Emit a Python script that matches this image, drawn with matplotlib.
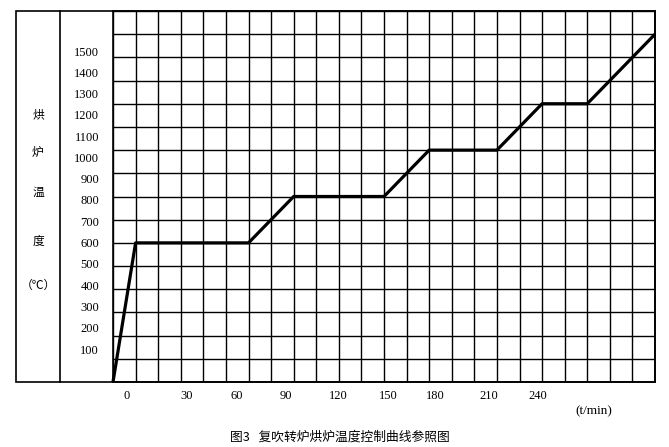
import matplotlib.pyplot as plt
import numpy as np
from matplotlib.patches import Rectangle
from matplotlib.lines import Line2D

# curve turning points (x in grid columns, y in degrees C)
t_cols = [0, 1, 6, 8, 12, 14, 17, 19, 21, 24]
temps = [0, 600, 600, 800, 800, 1000, 1000, 1200, 1200, 1500]

# tick labels as placed on the original figure
x_labels = ["0", "30", "60", "90", "120", "150", "180", "210", "240"]
x_label_pos = [0.62, 3.27, 5.5, 7.65, 9.98, 12.2, 14.25, 16.65, 18.8]
y_labels = [str(v) for v in range(100, 1600, 100)]
y_label_pos = [142, 234, 326, 417, 509, 601, 693, 785, 877, 968,
               1060, 1152, 1244, 1336, 1427]

side_chars = ["烘", "炉", "温", "度", "（℃）"]
side_char_y = [115, 152, 192, 241, 285]

W, H = 669, 447
fig = plt.figure(figsize=(W / 100, H / 100), dpi=100)

def fx(px):
    return px / W

def fy(py):
    return 1 - py / H

ax = fig.add_axes([fx(113), fy(382), fx(655) - fx(113), fy(11) - fy(382)])
ax.set_xlim(0, 24)
ax.set_ylim(0, 1600)

ax.set_xticks(np.arange(0, 25), minor=True)
ax.set_yticks(np.arange(0, 1700, 100), minor=True)
ax.grid(which="minor", color="black", linewidth=1.0)
ax.set_axisbelow(True)
ax.tick_params(which="both", length=0)

ax.set_xticks(x_label_pos, x_labels)
ax.set_yticks(y_label_pos, y_labels)
ax.tick_params(axis="x", pad=6)
ax.tick_params(axis="y", pad=10)
for lbl in ax.get_xticklabels() + ax.get_yticklabels():
    lbl.set_fontfamily("Liberation Serif")
    lbl.set_fontsize(9)

for s in ax.spines.values():
    s.set_linewidth(1.2)

ax.plot(t_cols, temps, color="black", linewidth=2.3, solid_capstyle="butt",
        zorder=5, clip_on=False)

# outer frame and divider of the label column
fig.patches.append(Rectangle((fx(16), fy(382)), fx(655) - fx(16), fy(11) - fy(382),
                             transform=fig.transFigure, fill=False,
                             edgecolor="black", linewidth=1.2))
fig.add_artist(Line2D([fx(60), fx(60)], [fy(11), fy(382)],
                      transform=fig.transFigure, color="black", linewidth=1.2))

for ch, py in zip(side_chars, side_char_y):
    fig.text(fx(38), fy(py), ch, ha="center", va="center", fontsize=8.5,
             family=["Noto Sans CJK SC", "DejaVu Sans"])

fig.text(fx(594), fy(411), "(t/min)", ha="center", va="center", fontsize=9.5,
         family="Liberation Serif")
fig.text(fx(230), fy(437), "图3   复吹转炉烘炉温度控制曲线参照图", ha="left", va="center",
         fontsize=9.2, family=["Noto Sans CJK SC", "DejaVu Sans"])

fig.savefig("out.png", dpi=100)
